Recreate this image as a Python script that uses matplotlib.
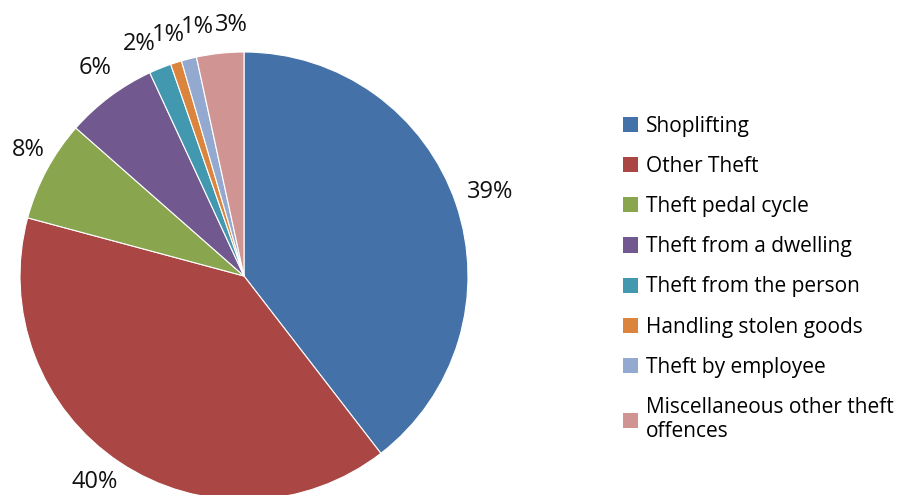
import matplotlib.pyplot as plt
from matplotlib.patches import Patch

categories = [
    "Shoplifting",
    "Other Theft",
    "Theft pedal cycle",
    "Theft from a dwelling",
    "Theft from the person",
    "Handling stolen goods",
    "Theft by employee",
    "Miscellaneous other theft\noffences",
]
shares = [39.5, 39.6, 7.3, 6.6, 1.6, 0.8, 1.1, 3.4]
labels = ["39%", "40%", "8%", "6%", "2%", "1%", "1%", "3%"]
colors = ["#4472a8", "#aa4644", "#89a54e", "#71588f", "#4198af",
          "#db843d", "#93a9cf", "#d09493"]

plt.rcParams["font.family"] = ["Open Sans", "DejaVu Sans"]

fig = plt.figure(figsize=(9.01, 4.95), dpi=100)
cx, cy, r = 244, 276, 224
ax = fig.add_axes([(cx - r) / 901, (495 - cy - r) / 495, 2 * r / 901, 2 * r / 495])

wedges, texts = ax.pie(
    shares,
    colors=colors,
    labels=labels,
    startangle=90,
    counterclock=False,
    wedgeprops=dict(edgecolor="white", linewidth=0.8),
    textprops=dict(fontsize=17, color="#111111"),
)
ax.set_xlim(-1, 1)
ax.set_ylim(-1, 1)
ax.set_aspect("equal")

# label spots as placed in the original (pixel centres)
label_pos = [(490, 192), (95, 482), (28, 150), (95, 68),
             (139, 44), (168, 35), (197, 27), (231, 25)]
for t, (px, py) in zip(texts, label_pos):
    t.set_position(((px - cx) / r, (cy - py) / r))
    t.set_ha("center")
    t.set_va("center")

handles = [Patch(facecolor=c, edgecolor="none") for c in colors]
fig.legend(
    handles, categories,
    loc="upper left",
    bbox_to_anchor=(604 / 901, 1 - 97 / 495),
    frameon=False,
    fontsize=15,
    handlelength=0.75,
    handleheight=0.75,
    handletextpad=0.35,
    labelspacing=0.92,
)

fig.savefig("out.png", dpi=100)
